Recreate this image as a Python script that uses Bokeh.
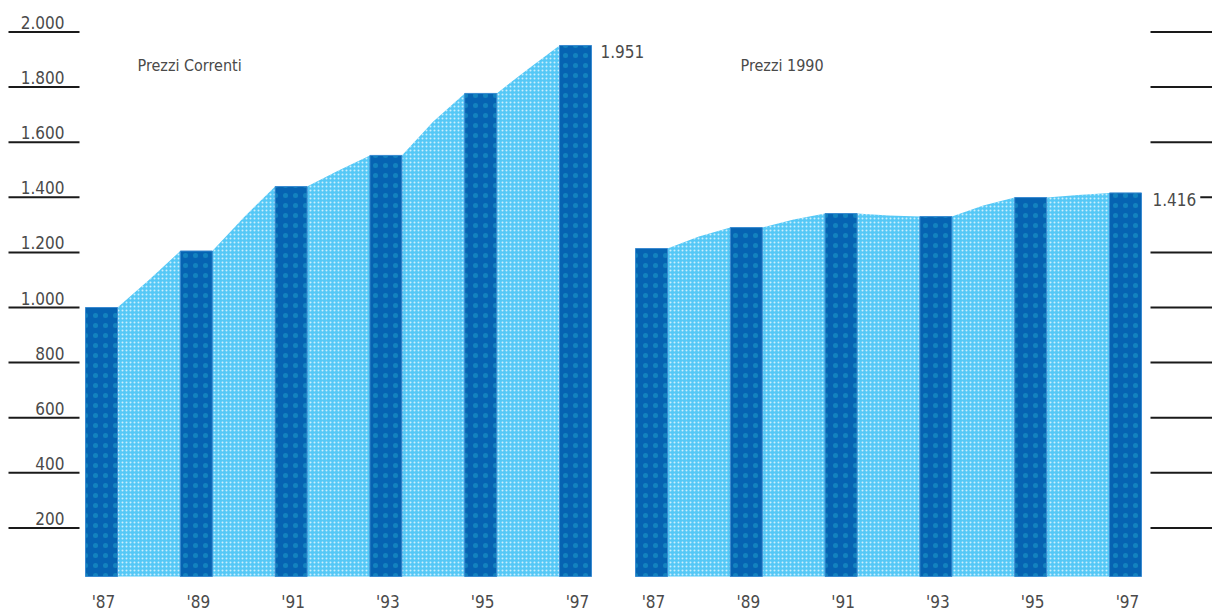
from bokeh.plotting import figure
from bokeh.models import Range1d, Label
from bokeh.core.properties import value
from bokeh.embed import file_html
from bokeh.resources import INLINE

# ---------------- data ----------------
years = [1987, 1988, 1989, 1990, 1991, 1992, 1993, 1994, 1995, 1996, 1997]
correnti = [1000, 1100, 1205, 1327, 1439, 1497, 1552, 1675, 1777, 1866, 1951]
prezzi_1990 = [1214, 1258, 1290, 1319, 1341, 1334, 1330, 1370, 1399, 1408, 1416]
bar_years = [1987, 1989, 1991, 1993, 1995, 1997]
year_labels = ["'87", "'89", "'91", "'93", "'95", "'97"]
y_ticks = [200, 400, 600, 800, 1000, 1200, 1400, 1600, 1800, 2000]
y_tick_labels = ["200", "400", "600", "800", "1.000", "1.200", "1.400", "1.600", "1.800", "2.000"]
title_left = "Prezzi Correnti"
title_right = "Prezzi 1990"
end_label_left = "1.951"
end_label_right = "1.416"

# ---------------- layout ----------------
W, H = 1212, 613
PX_YEAR = 47.4          # pixels per year
PX_UNIT = 0.2755        # pixels per value unit
LEFT_87 = 101           # pixel of '87 bar centre, left panel
RIGHT_87 = 651          # pixel of '87 bar centre, right panel
Y1000 = 307             # pixel row of value 1000
BAR_W = 0.675
BASE = 1000 - (576 - Y1000) / PX_UNIT

FONT_NAME = "'DejaVu Sans Condensed', 'Liberation Sans', sans-serif"
FONT = value(FONT_NAME)
TXT = "#4a4a4a"
DARK = "#0663b2"
LIGHT = "#55c8f6"

def px_l(px):
    return 1987 + (px - LEFT_87) / PX_YEAR

def px_r(px):
    return 1987 + (px - RIGHT_87) / PX_YEAR

p = figure(width=W, height=H, output_backend="svg", toolbar_location=None,
           x_axis_type=None, y_axis_type=None,
           x_range=Range1d(px_l(0), px_l(W)),
           y_range=Range1d(1000 - (H - Y1000) / PX_UNIT, 1000 + Y1000 / PX_UNIT),
           min_border=0, outline_line_color=None)
p.extra_x_ranges = {"right": Range1d(px_r(0), px_r(W))}
p.background_fill_color = "white"
p.border_fill_color = "white"


def area_points(vals):
    xs, ys = [], []
    for yr, v in zip(years, vals):
        if yr in bar_years:
            xs += [yr - BAR_W / 2, yr + BAR_W / 2]
            ys += [v, v]
        else:
            xs.append(yr)
            ys.append(v)
    return xs, ys


def panel(vals, rname):
    kw = {} if rname is None else {"x_range_name": rname}
    xs, ys = area_points(vals)
    p.varea(x=xs, y1=[BASE] * len(xs), y2=ys, fill_color=LIGHT,
            hatch_pattern="dot", hatch_color="white", hatch_alpha=0.7,
            hatch_scale=4, **kw)
    tops = [v for yr, v in zip(years, vals) if yr in bar_years]
    p.vbar(x=bar_years, top=tops, bottom=BASE, width=BAR_W,
           fill_color=DARK, line_color="#3a8ad0", line_width=1,
           hatch_pattern="dot", hatch_color="#2cc0d8", hatch_alpha=0.35,
           hatch_scale=10, **kw)
    p.text(x=bar_years, y=[BASE] * len(bar_years), text=year_labels,
           text_font=FONT, text_font_size="17px", text_color=TXT,
           text_align="center", text_baseline="top", y_offset=15, x_offset=2, **kw)


panel(correnti, None)
panel(prezzi_1990, "right")

# left tick lines + labels
p.segment(x0=[px_l(8)] * len(y_ticks), x1=[px_l(79)] * len(y_ticks),
          y0=y_ticks, y1=y_ticks, line_color="#1a1a1a", line_width=2)
p.text(x=[px_l(64)] * len(y_ticks), y=y_ticks, text=y_tick_labels,
       text_font=FONT, text_font_size="17px", text_color=TXT,
       text_align="right", text_baseline="bottom", y_offset=-3)

# right tick lines
p.segment(x0=[px_r(1150)] * len(y_ticks), x1=[px_r(W + 2)] * len(y_ticks),
          y0=y_ticks, y1=y_ticks, line_color="#1a1a1a", line_width=2,
          x_range_name="right")

# end-value labels
p.text(x=[bar_years[-1] + BAR_W / 2], y=[correnti[-1]], text=[end_label_left],
       text_font=FONT, text_font_size="17px", text_color=TXT,
       text_align="left", text_baseline="top", x_offset=9, y_offset=0)
p.add_layout(Label(x=bar_years[-1] + BAR_W / 2, y=prezzi_1990[-1], x_range_name="right",
                   text=end_label_right, x_offset=7, y_offset=4,
                   text_font=FONT_NAME, text_font_size="17px", text_color=TXT,
                   text_align="left", text_baseline="top",
                   background_fill_color="white", padding=4))

# panel titles
p.add_layout(Label(x=137, y=H - 65, x_units="screen", y_units="screen",
                   text=title_left, text_font=FONT_NAME,
                   text_font_size="16px", text_color=TXT, text_baseline="middle"))
p.add_layout(Label(x=740, y=H - 65, x_units="screen", y_units="screen",
                   text=title_right, text_font=FONT_NAME,
                   text_font_size="16px", text_color=TXT, text_baseline="middle"))

open("out.html", "w").write(file_html(p, INLINE))
